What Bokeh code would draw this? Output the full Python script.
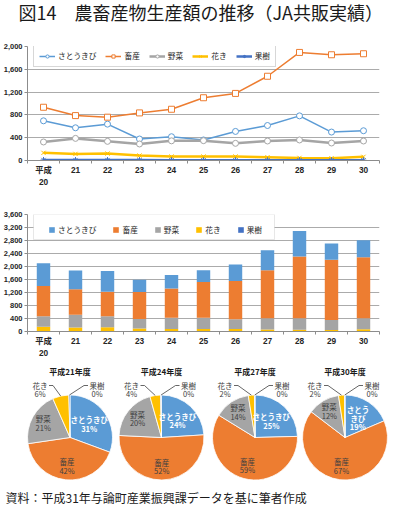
import math
from bokeh.plotting import figure
from bokeh.layouts import column, row
from bokeh.models import (Range1d, FixedTicker, NumeralTickFormatter, Legend,
                          LegendItem, Label, BoxAnnotation, ColumnDataSource)
from bokeh.core.properties import value
from bokeh.embed import file_html
from bokeh.resources import INLINE

# ---------------- data ----------------
years = [20, 21, 22, 23, 24, 25, 26, 27, 28, 29, 30]
year_labels = ["平成\n20", "21", "22", "23", "24", "25", "26", "27", "28", "29", "30"]
series_names = ["さとうきび", "畜産", "野菜", "花き", "果樹"]
sugarcane = [696, 574, 638, 377, 417, 360, 510, 614, 783, 499, 522]
livestock = [934, 788, 760, 835, 899, 1101, 1177, 1478, 1896, 1855, 1873]
vegetables = [325, 388, 336, 290, 345, 348, 301, 342, 360, 307, 342]
flowers = [134, 116, 122, 87, 70, 70, 70, 58, 46, 40, 64]
fruit = [9, 8, 8, 7, 6, 5, 5, 5, 5, 5, 5]
series_colors = ["#5B9BD5", "#ED7D31", "#A5A5A5", "#FFC000", "#4472C4"]
line_ticks = [0, 400, 800, 1200, 1600, 2000]
bar_ticks = [0, 400, 800, 1200, 1600, 2000, 2400, 2800, 3200, 3600]
pie_years = [21, 24, 27, 30]
pie_titles = ["平成21年度", "平成24年度", "平成27年度", "平成30年度"]
title_text = "図14　農畜産物生産額の推移（JA共販実績）"
unit_text = "(百万円)"
year_unit = "(年度)"
source_text = "資料：平成31年与論町産業振興課データを基に筆者作成"

series_values = [sugarcane, livestock, vegetables, flowers, fruit]

# ---------------- style ----------------
FONT = "Noto Sans CJK JP"
TICKFONT = "Liberation Sans, Noto Sans CJK JP"
TXT = "#262626"
AXC = "#8C8C8C"
GRIDC = "#ABABAB"
W = 399
ML, MR = 27, 20
FW = W - ML - MR


def blank(width, height, xr=(0, 1), yr=(0, 1)):
    p = figure(width=width, height=height, x_range=Range1d(*xr), y_range=Range1d(*yr),
               x_axis_type=None, y_axis_type=None, toolbar_location=None,
               output_backend="svg", min_border=0, frame_align=False)
    p.outline_line_color = None
    p.grid.visible = False
    return p


def style_chart(p, yticks):
    xa = p.xaxis[0]
    ya = p.yaxis[0]
    xa.ticker = FixedTicker(ticks=years,
                            minor_ticks=[y - 0.5 for y in years] + [years[-1] + 0.5])
    xa.major_label_overrides = {y: l for y, l in zip(years, year_labels)}
    xa.major_tick_line_color = None
    xa.major_tick_out = 0
    xa.minor_tick_out = 3
    xa.minor_tick_in = 0
    xa.minor_tick_line_color = AXC
    xa.axis_line_color = AXC
    xa.major_label_standoff = 1
    xa.major_label_text_font = TICKFONT
    xa.major_label_text_font_size = "8.3px"
    xa.major_label_text_font_style = "bold"
    xa.major_label_text_color = TXT
    ya.ticker = FixedTicker(ticks=yticks)
    ya.formatter = NumeralTickFormatter(format="0,0")
    ya.minor_tick_line_color = None
    ya.major_tick_out = 3
    ya.major_tick_in = 0
    ya.major_tick_line_color = AXC
    ya.axis_line_color = AXC
    ya.major_label_standoff = 2
    ya.major_label_text_font = TICKFONT
    ya.major_label_text_font_size = "7.5px"
    ya.major_label_text_font_style = "bold"
    ya.major_label_text_color = TXT
    p.xgrid.visible = False
    p.ygrid.ticker = FixedTicker(ticks=yticks)
    p.ygrid.grid_line_color = GRIDC
    p.ygrid.grid_line_width = 1
    p.outline_line_color = None


def side_labels(p, unit_y):
    p.add_layout(Label(x=-24, y=unit_y, x_units="screen", y_units="screen",
                       text=unit_text, text_font=FONT, text_font_size="7.5px",
                       text_font_style="bold", text_color=TXT,
                       text_baseline="middle", text_align="left"))
    p.add_layout(Label(x=FW - 2, y=-12, x_units="screen", y_units="screen",
                       text=year_unit, text_font=FONT, text_font_size="7.5px",
                       text_font_style="bold", text_color=TXT,
                       text_baseline="middle", text_align="left"))


# ---------------- title ----------------
TH = 26
tp = blank(W, TH)
tp.add_layout(Label(x=18, y=TH - 11, x_units="screen", y_units="screen", text=title_text,
                    text_font=FONT, text_font_size="18px", text_color="#1a1a1a",
                    text_baseline="middle", text_align="left"))

# ---------------- line chart ----------------
LTOP, LBOT = 20, 28
LH = 163
lfh = LH - LTOP - LBOT
lp = figure(width=W, height=LH, x_range=Range1d(19.5, 30.5), y_range=Range1d(0, 2000),
            toolbar_location=None, output_backend="svg", frame_align=False,
            min_border_left=ML, min_border_right=MR, min_border_top=LTOP, min_border_bottom=LBOT)
style_chart(lp, line_ticks)
side_labels(lp, lfh + 13)

markers = ["circle", "square", "circle", "x", "asterisk"]
widths = [1.5, 1.5, 2.5, 2.5, 2.5]
renders = {}
for name, vals, col, mk, lw in zip(series_names, series_values, series_colors, markers, widths):
    l = lp.line(years, vals, line_color=col, line_width=lw)
    s = lp.scatter(years, vals, marker=mk, size=6, line_color=col,
                   fill_color="white", line_width=1)
    renders[name] = (l, s)
items = [LegendItem(label=name, renderers=list(renders[name])) for name in series_names]
lleg = Legend(items=items, orientation="horizontal", location=(6, lfh - 4 - 18),
              label_text_font=FONT, label_text_font_size="7.7px", label_text_color=TXT,
              glyph_width=16, glyph_height=8, label_height=8, label_width=0,
              label_standoff=3, spacing=9, padding=5, margin=0,
              border_line_color="#B0B0B0", background_fill_color="white")
lp.add_layout(lleg)

# ---------------- bar chart ----------------
BTOP, BBOT = 25, 26
BH = 171
bfh = BH - BTOP - BBOT
bp = figure(width=W, height=BH, x_range=Range1d(19.5, 30.5), y_range=Range1d(0, 3600),
            toolbar_location=None, output_backend="svg", frame_align=False,
            min_border_left=ML, min_border_right=MR, min_border_top=BTOP, min_border_bottom=BBOT)
style_chart(bp, bar_ticks)
side_labels(bp, bfh + 17)

src = ColumnDataSource(dict(x=years, s0=sugarcane, s1=livestock, s2=vegetables,
                            s3=flowers, s4=fruit))
stack_keys = ["s4", "s3", "s2", "s1", "s0"]
stack_cols = [series_colors[4], series_colors[3], series_colors[2], series_colors[1], series_colors[0]]
bars = bp.vbar_stack(stack_keys, x="x", width=0.42, color=stack_cols, source=src,
                     line_color=None)
bar_by_name = dict(zip([series_names[4], series_names[3], series_names[2],
                        series_names[1], series_names[0]], bars))
bp.add_layout(BoxAnnotation(left=6, right=247, top=bfh - 3, bottom=bfh - 28,
                            left_units="screen", right_units="screen",
                            top_units="screen", bottom_units="screen",
                            fill_color="white", fill_alpha=1,
                            line_color="#B0B0B0", line_width=1, level="annotation"))
bitems = [LegendItem(label=n, renderers=[bar_by_name[n]]) for n in series_names]
bleg = Legend(items=bitems, orientation="horizontal", location=(21, bfh - 15.5 - 8),
              label_text_font=FONT, label_text_font_size="7.7px", label_text_color=TXT,
              glyph_width=7, glyph_height=7, label_height=8, label_width=0,
              label_standoff=3, spacing=16, padding=4, margin=0,
              border_line_color=None, background_fill_alpha=0)
bp.add_layout(bleg)

# ---------------- pies ----------------
PH = 125
pie_widths = [115, 93, 92, 99]
pie_centers = [69.5, 46.0, 46.5, 44.5]
R = 42.5
pie_figs = []
for k, (yr, ttl) in enumerate(zip(pie_years, pie_titles)):
    i = years.index(yr)
    vals = [sv[i] for sv in series_values]
    tot = float(sum(vals))
    fr = [v / tot for v in vals]
    cx = pie_centers[k]
    wdt = pie_widths[k]
    pp = blank(wdt, PH, xr=(-cx, wdt - cx), yr=(-48, 77))
    starts, ends, mids = [], [], []
    c = 0.0
    for f in fr:
        a_end = math.pi / 2 - 2 * math.pi * c
        a_start = math.pi / 2 - 2 * math.pi * (c + f)
        starts.append(a_start)
        ends.append(a_end)
        mids.append((a_start + a_end) / 2)
        c += f
    ws = ColumnDataSource(dict(s=starts, e=ends, col=series_colors))
    pp.wedge(x=0, y=0, radius=R, start_angle="s", end_angle="e", fill_color="col",
             line_color="white", line_width=0.8, source=ws)
    pcts = ["%d%%" % round(f * 100) for f in fr]
    fs = value("7.5px")
    fnt = value(FONT)
    radii = [0.55, 0.68, 0.72]
    inside_cols = ["white", "#404040", "#404040"]
    inside_style = ["bold", "normal", "normal"]
    for j in range(3):
        lx = radii[j] * R * math.cos(mids[j])
        ly = radii[j] * R * math.sin(mids[j])
        lines = [series_names[j], pcts[j]]
        if j == 0 and fr[j] < 0.2:
            lines = [series_names[j][:3], series_names[j][3:], pcts[j]]
        n = len(lines)
        ys = [ly + (n - 1) * 4.3 - 8.6 * t for t in range(n)]
        pp.text(x=[lx] * n, y=ys, text=lines, text_font=fnt, text_font_size=fs,
                text_color=inside_cols[j], text_font_style=inside_style[j],
                text_align="center", text_baseline="middle")
    outs = [(3, -30.0, 48.0, 1), (4, 27.0, 48.0, -1)]
    for j, ox, oy, sgn in outs:
        pp.text(x=[ox, ox], y=[oy + 4.3, oy - 4.3], text=[series_names[j], pcts[j]],
                text_font=fnt, text_font_size=fs, text_color="#404040",
                text_align="center", text_baseline="middle")
        ex = R * math.cos(mids[j])
        ey = R * math.sin(mids[j])
        pp.line([ox + sgn * 9, ox + sgn * 13, ex], [oy + 4, oy + 4, ey],
                line_color="#404040", line_width=0.8)
    pp.text(x=[0], y=[66], text=[ttl], text_font=fnt, text_font_size=value("8px"),
            text_font_style="bold", text_color="#1a1a1a",
            text_align="center", text_baseline="middle")
    pie_figs.append(pp)

# ---------------- footer ----------------
fp = blank(W, 20)
fp.add_layout(Label(x=5, y=8, x_units="screen", y_units="screen", text=source_text,
                    text_font=FONT, text_font_size="12px", text_color="#1a1a1a",
                    text_baseline="middle", text_align="left"))

layout = column(tp, lp, bp, row(*pie_figs), fp)
open("out.html", "w").write(file_html(layout, INLINE))
